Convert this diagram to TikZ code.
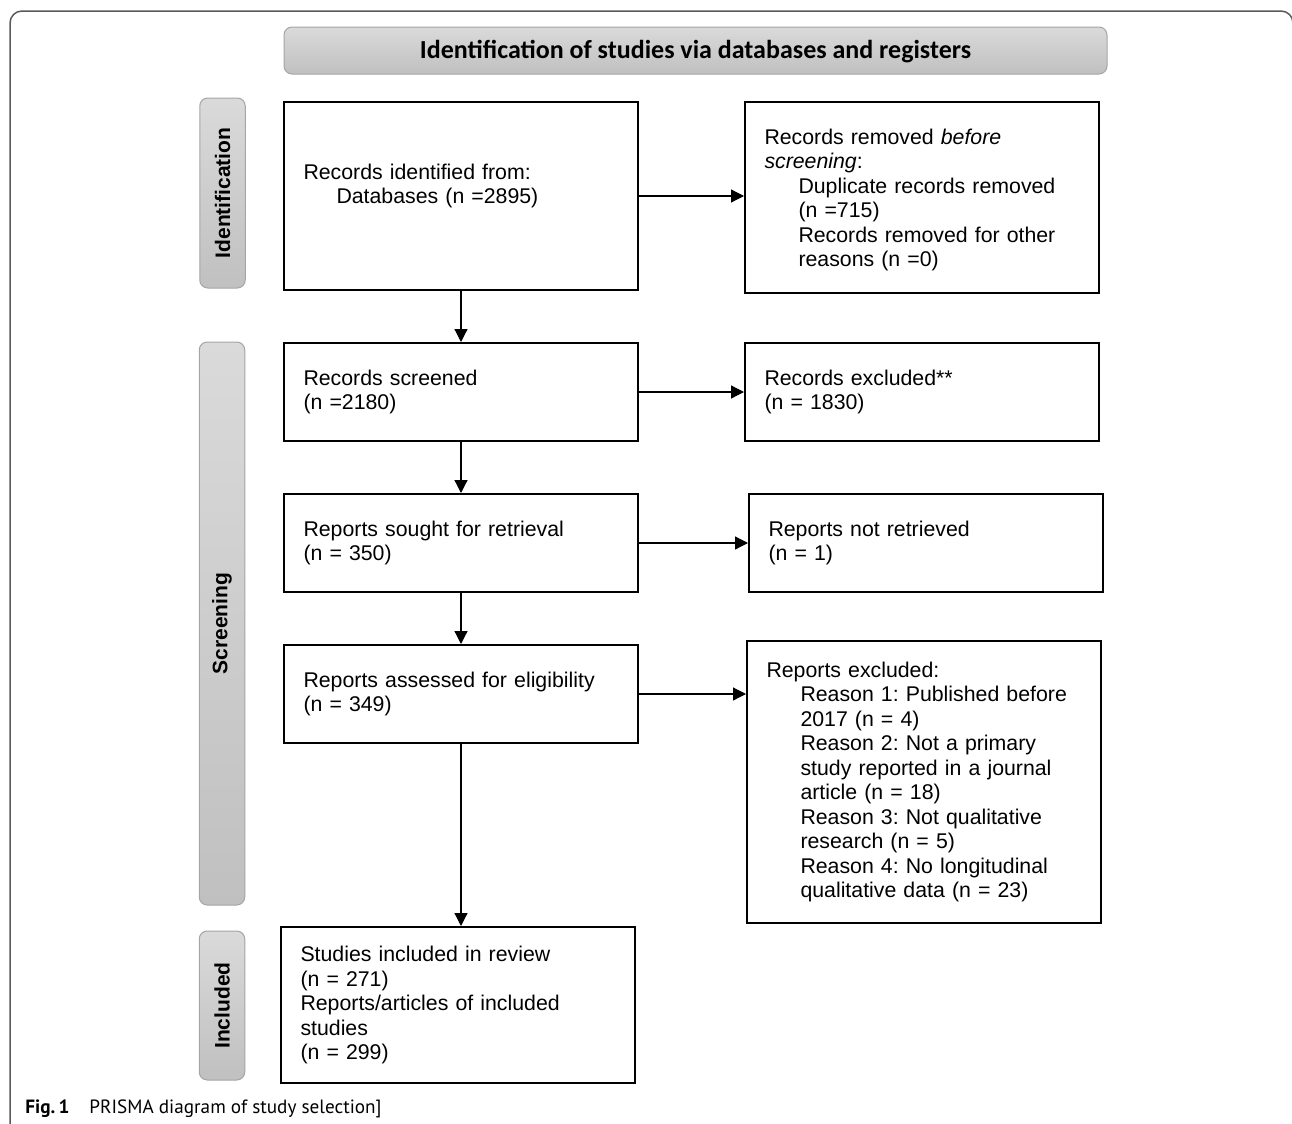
\documentclass[tikz,border=0pt]{standalone}
\usepackage{fontspec}
\setmainfont{Liberation Sans}
\newfontfamily\bannerfont{Carlito}
\newfontfamily\capfont{PT Sans}
\usetikzlibrary{arrows.meta}
\definecolor{shadelight}{RGB}{218,218,218}
\definecolor{shadedark}{RGB}{192,192,192}
\definecolor{rimgray}{RGB}{165,165,165}
\definecolor{framegray}{RGB}{90,90,90}
\frenchspacing

\begin{document}
\begin{tikzpicture}[x=0.5pt,y=-0.5pt,
	box/.style={draw=black,line width=1pt,rectangle,minimum width=177pt,text width=157.5pt,inner xsep=9.75pt,align=left,font=\fontsize{10.65pt}{12.25pt}\selectfont},
	phase/.style={draw=rimgray,line width=0.5pt,rounded corners=4pt,top color=shadelight,bottom color=shadedark,rotate=90,minimum height=22.75pt,font=\bfseries\fontsize{10.5pt}{12pt}\selectfont},
	flow/.style={-{Triangle[length=6.5pt,width=6.5pt]},line width=0.6pt}]
	\useasboundingbox (0,0) rectangle (1292,1124);
	\draw [framegray,line width=0.75pt,rounded corners=6pt] (10,11) rectangle (1293,1136);
	\node [draw=rimgray,line width=0.5pt,rounded corners=4pt,top color=shadelight,bottom color=shadedark,minimum width=411.5pt,minimum height=23.5pt,text height=10pt,text depth=2pt,font=\bannerfont\bfseries\fontsize{13pt}{15pt}\selectfont] (banner) at (695.5,50.5) {Identification of studies via databases and registers};
	\node [phase,minimum width=95pt] (phaseid) at (222.5,193) {Identification};
	\node [phase,minimum width=281.5pt] (phasescr) at (222,623.5) {Screening};
	\node [phase,minimum width=74.5pt] (phaseinc) at (222,1005.5) {Included};
	\node [box,minimum height=94pt] (ident) at (461,196) {Records identified from:\\ \hspace*{16.5pt}Databases (n =2895)\\ \mbox{}};
	\node [box,minimum height=95.5pt,text depth=60.75pt] (removed) at (922,197.5) {Records removed \textit{before}\\ \textit{screening}:\\ \hspace*{17pt}Duplicate records removed\\ \hspace*{17pt}(n =715)\\ \hspace*{17pt}Records removed for other\\ \hspace*{17pt}reasons (n =0)};
	\node [box,minimum height=49pt] (screened) at (461,392) {Records screened\\ (n =2180)};
	\node [box,minimum height=49pt] (excluded) at (922,392) {Records excluded**\\ (n = 1830)};
	\node [box,minimum height=49pt] (sought) at (461,543) {Reports sought for retrieval\\ (n = 350)};
	\node [box,minimum height=49pt] (notretr) at (926,543) {Reports not retrieved\\ (n = 1)};
	\node [box,minimum height=49pt] (assessed) at (461,694) {Reports assessed for eligibility\\ (n = 349)};
	\node [box,minimum height=141pt] (repexcl) at (924,782) {Reports excluded:\\ \hspace*{17pt}Reason 1: Published before\\ \hspace*{17pt}2017 (n = 4)\\ \hspace*{17pt}Reason 2: Not a primary\\ \hspace*{17pt}study reported in a journal\\ \hspace*{17pt}article (n = 18)\\ \hspace*{17pt}Reason 3: Not qualitative\\ \hspace*{17pt}research (n = 5)\\ \hspace*{17pt}Reason 4: No longitudinal\\ \hspace*{17pt}qualitative data (n = 23)};
	\node [box,minimum height=78pt] (included) at (458,1005) {Studies included in review\\ (n = 271)\\ Reports/articles of included\\ studies\\ (n = 299)};
	\draw [flow] (ident) -- (screened);
	\draw [flow] (screened) -- (sought);
	\draw [flow] (sought) -- (assessed);
	\draw [flow] (assessed.south) -- (assessed.south |- included.north);
	\draw [flow] (ident.east) -- (ident.east -| removed.west);
	\draw [flow] (screened) -- (excluded);
	\draw [flow] (sought) -- (notretr);
	\draw [flow] (assessed.east) -- (assessed.east -| repexcl.west);
	\node [anchor=base west,inner sep=0pt,font=\capfont\fontsize{9.6pt}{11pt}\selectfont] (caption) at (25,1113) {\textbf{Fig.\,1}\hspace{10pt}PRISMA diagram of study selection]};
\end{tikzpicture}
\end{document}
